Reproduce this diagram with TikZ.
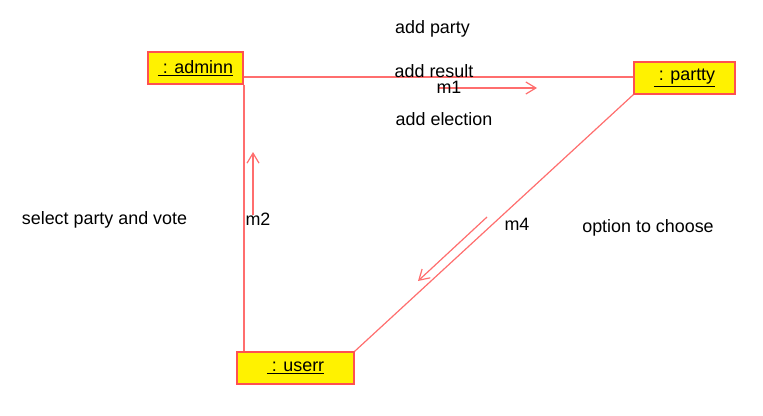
\documentclass[tikz,border=0pt]{standalone}
\usepackage{fontspec}
\setmainfont{Liberation Sans}
\usetikzlibrary{arrows.meta}
\definecolor{lred}{RGB}{255,110,110}
\definecolor{bred}{RGB}{255,80,80}
\begin{document}
\begin{tikzpicture}[x=1pt,y=-1pt,
  obj/.style={draw=bred, line width=1.3pt, fill=yellow, minimum height=32pt, inner sep=0pt, font=\fontsize{17.9}{20}\selectfont},
  lbl/.style={anchor=base, inner sep=0pt, font=\fontsize{17.9}{20}\selectfont},
  link/.style={color=lred, line width=1.8pt},
  dlink/.style={color=lred, line width=1.2pt},
  msg/.style={color=lred, line width=1.2pt, -{Straight Barb[length=10pt,width=12pt]}}]
\useasboundingbox (0,0) rectangle (763,415);
\node[obj, minimum width=95pt]  (adminn) at (195.5,68) {\underline{\ : adminn}};
\node[obj, minimum width=101pt] (partty) at (684.5,78) {\underline{\ : partty}};
\node[obj, minimum width=117pt] (userr)  at (295.5,368) {\underline{\ : userr}};
\coordinate (hy) at (0,77);
\draw[link] (adminn.east |- hy) -- (partty.west |- hy);
\draw[link] (adminn.south east) -- (adminn.south east |- userr.north);
\draw[dlink] (partty.south west) -- (userr.north east);
\coordinate (m1s) at (438,88); \coordinate (m1e) at (537,88);
\coordinate (m2s) at (253,215); \coordinate (m2e) at (253,152);
\coordinate (m4s) at (487,217); \coordinate (m4e) at (418,281);
\draw[msg] (m1s) -- (m1e);
\draw[msg] (m2s) -- (m2e);
\draw[msg] (m4s) -- (m4e);
\node[lbl] (t1) at (432.5,34) {add party};
\node[lbl] (t2) at (434,77) {add result};
\node[lbl] (m1) at (449,93) {m1};
\node[lbl] (t3) at (444,125) {add election};
\node[lbl] (t4) at (104.5,224) {select party and vote};
\node[lbl] (m2) at (258,225) {m2};
\node[lbl] (m4) at (517,230) {m4};
\node[lbl] (t5) at (648,232) {option to choose};
\end{tikzpicture}
\end{document}
